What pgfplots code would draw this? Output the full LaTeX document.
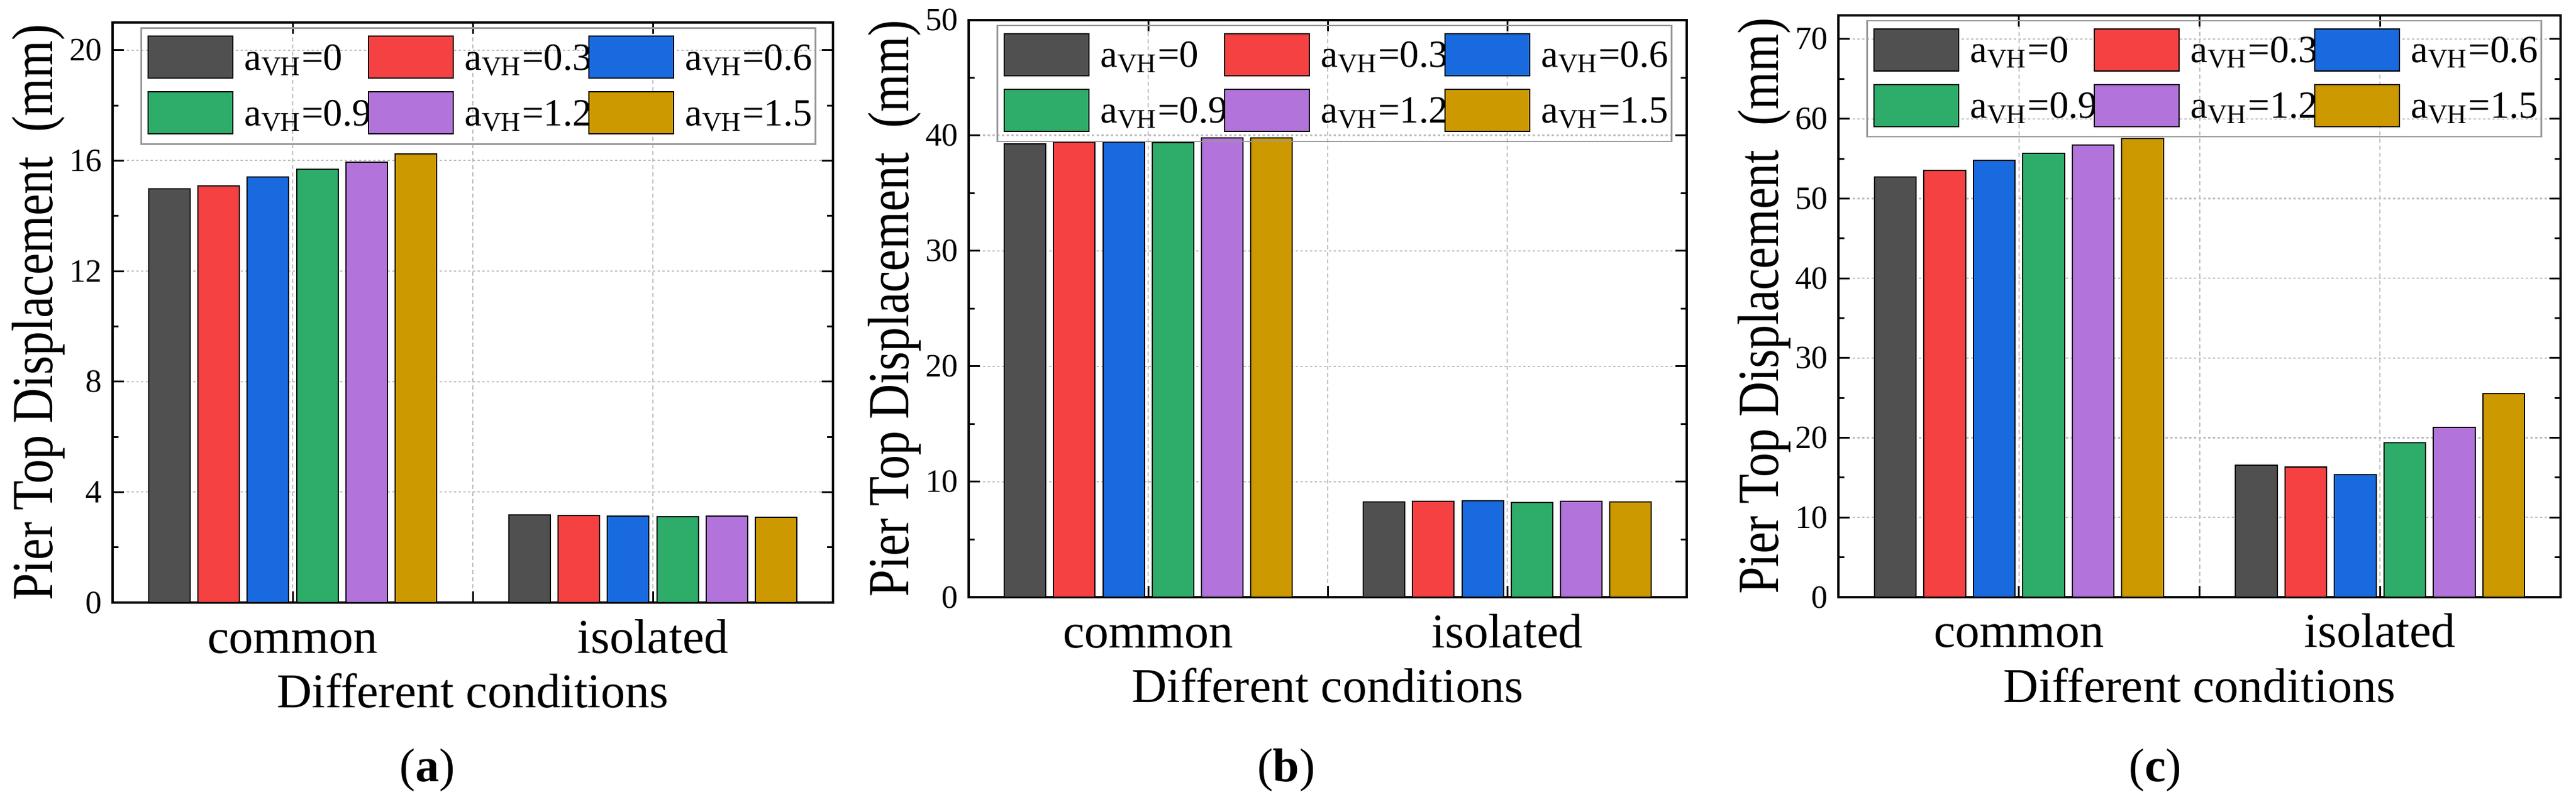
\documentclass[border=0pt]{standalone}
\usepackage{fontspec}
\setmainfont{Liberation Serif}
\usepackage{graphicx}
\usepackage{pgfplots}
\pgfplotsset{compat=1.18}

\definecolor{c1}{RGB}{80,80,80}
\definecolor{c2}{RGB}{245,65,65}
\definecolor{c3}{RGB}{24,106,222}
\definecolor{c4}{RGB}{46,172,106}
\definecolor{c5}{RGB}{178,115,218}
\definecolor{c6}{RGB}{204,153,0}

\newcommand{\fs}[1]{\fontsize{#1}{#1}\selectfont}

\pgfplotsset{
  panel/.style={
    scale only axis, anchor=north west,
    xmin=0.5, xmax=2.5, ymin=0,
    xtick={1,1.5,2}, xticklabels={common,,isolated},
    minor x tick num=0, minor y tick num=1,
    tick align=inside,
    major tick length=3.8pt, minor tick length=2pt,
    every tick/.style={black, line width=0.6pt},
    axis line style={black, line width=0.8pt},
    xmajorgrids, ymajorgrids,
    x grid style={black!25, line width=0.4pt, dash pattern=on 1.4pt off 1pt},
    y grid style={black!25, line width=0.45pt, dash pattern=on 0.8pt off 0.8pt},
    /pgf/number format/assume math mode=true,
    yticklabel style={font=\fs{11}},
    xticklabel style={font=\fs{16.4}, anchor=base, yshift=-17pt},
    xlabel={Different conditions},
    ylabel={\scalebox{1}[1.2]{Pier Top Displacement\ \ (mm)}},
    label style={font=\fs{16.4}},
    xlabel style={at={([yshift=-35.5pt]axis description cs:0.5,0)}, anchor=base},
    ylabel style={at={([xshift=-25pt]axis description cs:0,0.5)}, anchor=center},
    legend columns=3, legend cell align=left,
    legend image code/.code={\draw[#1, draw=black, line width=0.4pt] (0pt,-5.2pt) rectangle (28.6pt,9pt);},
    legend style={
      at={(rel axis cs:0,1)}, anchor=north west, xshift=9.4pt, yshift=-1.6pt,
      draw=black!40, line width=0.5pt, fill=none,
      inner xsep=2.2pt, inner ysep=2.6pt,
      row sep=3.6pt, column sep=0pt,
      font=\fs{13},
      nodes={inner xsep=0pt, inner ysep=0pt, text width=41.8pt, text height=8.4pt, text depth=3.6pt},
      /tikz/every odd column/.append style={column sep=3.6pt},
    },
  },
  b/.style={ybar, bar width=0.1155, draw=black, line width=0.4pt, fill=#1},
}

\begin{document}
\begin{tikzpicture}
\useasboundingbox (0,0) rectangle (869.6pt,-270.8pt);

% ---------------- (a)
\begin{axis}[panel, at={(38pt,-7.6pt)}, width=243.2pt, height=196pt,
  ymax=21, ytick={0,4,8,12,16,20}]
\addplot[b=c1, bar shift=-0.3425] coordinates {(1,14.97) (2,3.18)};
\addplot[b=c2, bar shift=-0.2055] coordinates {(1,15.09) (2,3.15)};
\addplot[b=c3, bar shift=-0.0685] coordinates {(1,15.40) (2,3.13)};
\addplot[b=c4, bar shift=0.0685] coordinates {(1,15.69) (2,3.11)};
\addplot[b=c5, bar shift=0.2055] coordinates {(1,15.95) (2,3.12)};
\addplot[b=c6, bar shift=0.3425] coordinates {(1,16.25) (2,3.09)};
\legend{a\textsubscript{VH}=0, a\textsubscript{VH}=0.3, a\textsubscript{VH}=0.6, a\textsubscript{VH}=0.9, a\textsubscript{VH}=1.2, a\textsubscript{VH}=1.5}
\end{axis}

% ---------------- (b)
\begin{axis}[panel, at={(327pt,-6.7pt)}, width=242.4pt, height=195.1pt,
  ymax=50, ytick={0,10,20,30,40,50}]
\addplot[b=c1, bar shift=-0.3425] coordinates {(1,39.24) (2,8.27)};
\addplot[b=c2, bar shift=-0.2055] coordinates {(1,39.43) (2,8.29)};
\addplot[b=c3, bar shift=-0.0685] coordinates {(1,39.43) (2,8.34)};
\addplot[b=c4, bar shift=0.0685] coordinates {(1,39.36) (2,8.20)};
\addplot[b=c5, bar shift=0.2055] coordinates {(1,39.75) (2,8.31)};
\addplot[b=c6, bar shift=0.3425] coordinates {(1,39.75) (2,8.24)};
\legend{a\textsubscript{VH}=0, a\textsubscript{VH}=0.3, a\textsubscript{VH}=0.6, a\textsubscript{VH}=0.9, a\textsubscript{VH}=1.2, a\textsubscript{VH}=1.5}
\end{axis}

% ---------------- (c)
\begin{axis}[panel, at={(620.6pt,-5.1pt)}, width=243.8pt, height=196.7pt,
  ymax=73, ytick={0,10,20,30,40,50,60,70}]
\addplot[b=c1, bar shift=-0.3425] coordinates {(1,52.70) (2,16.57)};
\addplot[b=c2, bar shift=-0.2055] coordinates {(1,53.55) (2,16.33)};
\addplot[b=c3, bar shift=-0.0685] coordinates {(1,54.80) (2,15.40)};
\addplot[b=c4, bar shift=0.0685] coordinates {(1,55.70) (2,19.40)};
\addplot[b=c5, bar shift=0.2055] coordinates {(1,56.70) (2,21.33)};
\addplot[b=c6, bar shift=0.3425] coordinates {(1,57.55) (2,25.50)};
\legend{a\textsubscript{VH}=0, a\textsubscript{VH}=0.3, a\textsubscript{VH}=0.6, a\textsubscript{VH}=0.9, a\textsubscript{VH}=1.2, a\textsubscript{VH}=1.5}
\end{axis}

\node[font=\fs{16}] at (144.2pt,-260.2pt) {(\textbf{a})};
\node[font=\fs{16}] at (434.2pt,-260.2pt) {(\textbf{b})};
\node[font=\fs{16}] at (727.6pt,-260.2pt) {(\textbf{c})};
\end{tikzpicture}
\end{document}
